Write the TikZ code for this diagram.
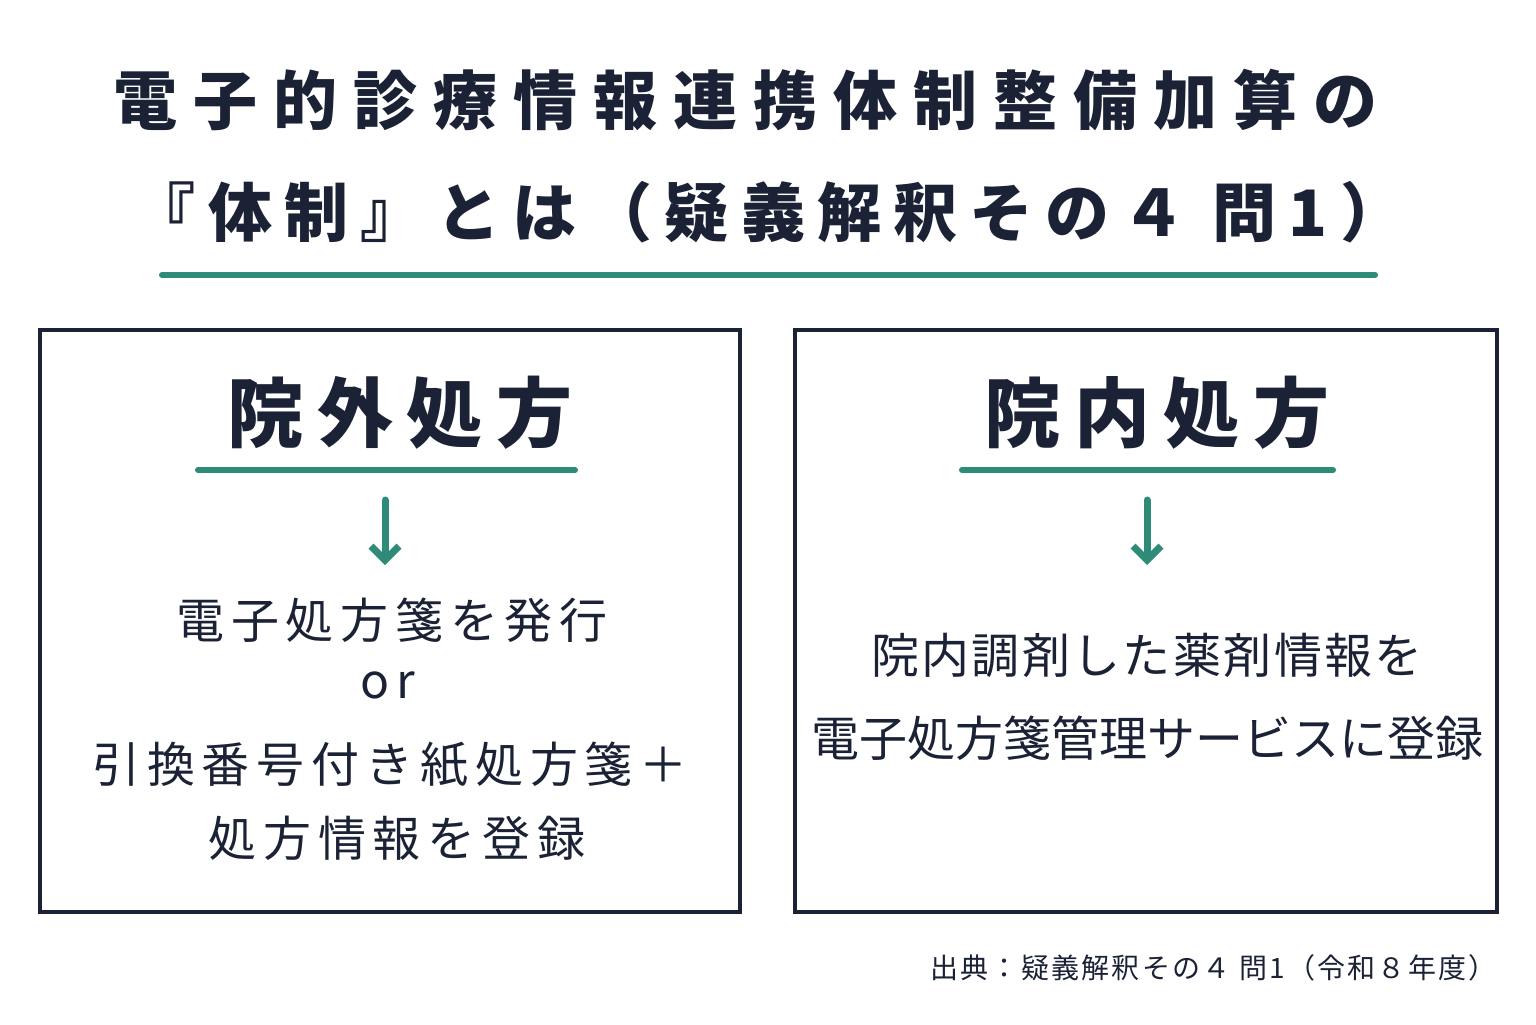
\documentclass[tikz,border=0pt]{standalone}
\usetikzlibrary{arrows.meta}
\usepackage{fontspec}
\newfontfamily\cjk{Noto Sans CJK JP}
\newfontfamily\cjkT[LetterSpace=25]{Noto Sans CJK JP}
\newfontfamily\cjkTT[LetterSpace=19]{Noto Sans CJK JP}
\newfontfamily\cjkH[LetterSpace=18]{Noto Sans CJK JP}
\newfontfamily\cjkB[LetterSpace=14]{Noto Sans CJK JP}
\newfontfamily\cjkR[LetterSpace=5]{Noto Sans CJK JP}
\newfontfamily\cjkF[LetterSpace=8]{Noto Sans CJK JP}
\definecolor{ink}{HTML}{1B2236}
\definecolor{teal}{HTML}{2E8B78}
\begin{document}
\begin{tikzpicture}[x=0.5pt,y=-0.5pt,
  txt/.style={text=ink,inner sep=0pt},
  tf/.style={txt,font=\cjkT\fontsize{32}{36}\selectfont\bfseries},
  hf/.style={txt,font=\cjkH\fontsize{38}{40}\selectfont\bfseries},
  bf/.style={txt,font=\cjkB\fontsize{24}{26}\selectfont},
  box/.style={draw=ink,line width=1.6pt},
  uline/.style={draw=teal,line width=3pt,line cap=round},
  arr/.style={draw=teal,line width=3.5pt,line cap=round,-{Straight Barb[length=7pt,width=14pt]}}]
\useasboundingbox[fill=white] (0,0) rectangle (1536,1024);
\node[tf] (t1) at (745,100) {電子的診療情報連携体制整備加算の};
\node[txt,font=\cjkTT\fontsize{32}{36}\selectfont\bfseries] (t2) at (768,212) {『体制』とは（疑義解釈その４ 問1）};
\coordinate (u1) at (162,275); \coordinate (u2) at (1375,275);
\draw[uline] (u1) -- (u2);
\draw[box] (40,330) rectangle (740,912);
\draw[box] (795,330) rectangle (1497,912);
\node[hf] (h1) at (400,413) {院外処方};
\node[hf] (h2) at (1157,413) {院内処方};
\coordinate (l1) at (198,470); \coordinate (l2) at (575,470);
\coordinate (r1) at (962,470); \coordinate (r2) at (1333,470);
\draw[uline] (l1) -- (l2); \draw[uline] (r1) -- (r2);
\coordinate (a1) at (385,500); \coordinate (b1) at (385,565);
\coordinate (a2) at (1147,500); \coordinate (b2) at (1147,565);
\draw[arr] (a1) -- (b1); \draw[arr] (a2) -- (b2);
\node[bf] (p1) at (392,620) {電子処方箋を発行};
\node[bf] (p2) at (388,685) {or};
\node[bf] (p3) at (390,765) {引換番号付き紙処方箋＋};
\node[bf] (p4) at (397,838) {処方情報を登録};
\node[txt,font=\cjkR\fontsize{24}{26}\selectfont] (q1) at (1147,655) {院内調剤した薬剤情報を};
\node[txt,font=\cjk\fontsize{24}{26}\selectfont] (q2) at (1147,738) {電子処方箋管理サービスに登録};
\node[txt,anchor=east,font=\cjkF\fontsize{14}{16}\selectfont] (f) at (1497,968) {出典：疑義解釈その４ 問1（令和８年度）};
\end{tikzpicture}
\end{document}
